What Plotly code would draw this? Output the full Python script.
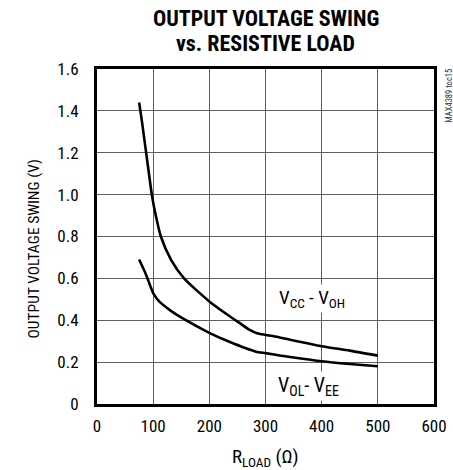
import plotly.graph_objects as go

# Data
r_upper = [75, 80, 90, 97.6, 103.6, 113.7, 131.6, 155, 200, 235.7, 255, 271, 285, 300, 325, 350, 400, 450, 500]
v_upper = [1.44, 1.35, 1.15, 1.0, 0.913, 0.80, 0.69, 0.60, 0.49, 0.42, 0.385, 0.355, 0.338, 0.33, 0.318, 0.303, 0.276, 0.255, 0.231]

r_lower = [75, 87, 100, 110.7, 131.6, 152, 200, 235.7, 283, 300, 325, 350, 400, 450, 500]
v_lower = [0.69, 0.62, 0.53, 0.49, 0.445, 0.41, 0.34, 0.297, 0.25, 0.243, 0.232, 0.222, 0.204, 0.191, 0.18]

x_ticks = [0, 100, 200, 300, 400, 500, 600]
y_ticks = [0, 0.2, 0.4, 0.6, 0.8, 1.0, 1.2, 1.4, 1.6]
y_ticktext = ["0", "0.2", "0.4", "0.6", "0.8", "1.0", "1.2", "1.4", "1.6"]

FONT = "Roboto Condensed, Liberation Sans, Arial, sans-serif"

fig = go.Figure()
fig.add_trace(go.Scatter(x=r_upper, y=v_upper, mode="lines",
                         line=dict(color="black", width=2.6, shape="spline", smoothing=0.6),
                         showlegend=False))
fig.add_trace(go.Scatter(x=r_lower, y=v_lower, mode="lines",
                         line=dict(color="black", width=2.6, shape="spline", smoothing=0.6),
                         showlegend=False))

fig.update_layout(
    width=453, height=470,
    margin=dict(l=97, r=19, t=69, b=66),
    paper_bgcolor="white", plot_bgcolor="white",
    font=dict(family=FONT, size=17, color="black"),
    xaxis=dict(range=[0, 600], tickvals=x_ticks, ticktext=[str(v) for v in x_ticks],
               showgrid=True, gridcolor="#606060", gridwidth=1,
               showline=True, linecolor="black", linewidth=3, mirror=True,
               ticks="", zeroline=False, ticklabelstandoff=5, automargin=False,
               tickfont=dict(size=17)),
    yaxis=dict(range=[0, 1.6], tickvals=y_ticks, ticktext=y_ticktext,
               showgrid=True, gridcolor="#606060", gridwidth=1,
               showline=True, linecolor="black", linewidth=3, mirror=True,
               ticks="", zeroline=False, ticklabelstandoff=12, automargin=False,
               tickfont=dict(size=17)),
)

# Title (two lines)
fig.add_annotation(x=0.5, y=1, xref="paper", yref="paper", xanchor="center", yanchor="middle",
                   yshift=50.5, showarrow=False, text="<b>OUTPUT VOLTAGE SWING</b>",
                   font=dict(size=22))
fig.add_annotation(x=0.5, y=1, xref="paper", yref="paper", xanchor="center", yanchor="middle",
                   yshift=25.5, showarrow=False, text="<b>vs. RESISTIVE LOAD</b>",
                   font=dict(size=22))
# Axis titles
fig.add_annotation(x=0.5, y=0, xref="paper", yref="paper", xanchor="center", yanchor="middle",
                   yshift=-53, showarrow=False,
                   text="R<sub>LOAD</sub> (Ω)", font=dict(size=19))
fig.add_annotation(x=0, y=0.5, xref="paper", yref="paper", xanchor="center", yanchor="middle",
                   xshift=-64, yshift=-13, textangle=-90, showarrow=False,
                   text="OUTPUT VOLTAGE SWING (V)", font=dict(size=15.5))

# Curve labels
fig.add_annotation(x=382, y=0.503, xref="x", yref="y",
                   text="V<sub>CC</sub> - V<sub>OH</sub>", showarrow=False,
                   bgcolor="white", font=dict(size=19))
fig.add_annotation(x=377, y=0.085, xref="x", yref="y",
                   text="V<sub>OL</sub>- V<sub>EE</sub>", showarrow=False,
                   bgcolor="white", font=dict(size=20))
# Side note
fig.add_annotation(x=1.0, xref="paper", xanchor="center", xshift=15.5,
                   y=0.919, yref="paper", yanchor="middle",
                   text="MAX4389 toc15", textangle=-90, showarrow=False,
                   font=dict(size=8.5, color="#333333"))

fig.write_html(
    "out.html",
    config={"displayModeBar": False},
    post_script=("document.body.style.margin='0';"
                 "document.body.style.overflow='hidden';"
                 "document.documentElement.style.overflow='hidden';"),
)
